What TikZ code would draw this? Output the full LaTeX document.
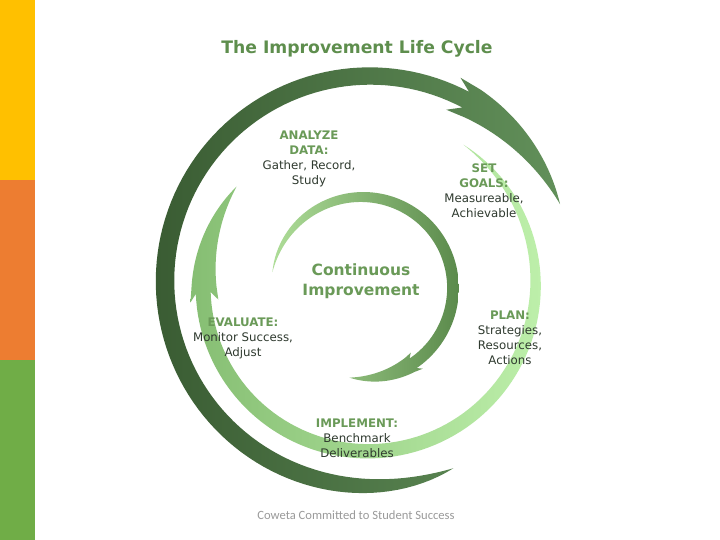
\documentclass[tikz,border=0pt]{standalone}
\usepackage{fontspec}
\setmainfont{DejaVu Sans}
\newfontfamily\footfont{Carlito}
\definecolor{barY}{HTML}{FFC000}
\definecolor{barO}{HTML}{ED7D31}
\definecolor{barG}{HTML}{70AD47}
\definecolor{oDark}{HTML}{3A5C33}
\definecolor{oLight}{HTML}{62905A}
\definecolor{mDark}{HTML}{86BE73}
\definecolor{mLight}{HTML}{BDEFAA}
\definecolor{iLight}{HTML}{AEDD98}
\definecolor{iDark}{HTML}{5B8A4C}
\definecolor{hdr}{HTML}{6A9A58}
\definecolor{ttl}{HTML}{5E8E4D}
\definecolor{body}{HTML}{2F3A2F}
\definecolor{foot}{HTML}{9A9A9A}
% outer arrow
\pgfmathdeclarefunction{oA}{1}{\pgfmathparse{-66-232*#1}}
\pgfmathdeclarefunction{oW}{1}{\pgfmathparse{10*(1-exp(-12*#1))-1.5*#1}}
\pgfmathdeclarefunction{oHA}{1}{\pgfmathparse{-300-38*#1}}
\pgfmathdeclarefunction{oH}{1}{\pgfmathparse{16*(1-#1)*(1+0.3*#1)}}
% middle arrow
\pgfmathdeclarefunction{mA}{1}{\pgfmathparse{55-232*#1}}
\pgfmathdeclarefunction{mR}{1}{\pgfmathparse{170-7*#1*#1}}
\pgfmathdeclarefunction{mW}{1}{\pgfmathparse{7.5*(1-exp(-5*#1))}}
\pgfmathdeclarefunction{mHA}{1}{\pgfmathparse{-179-38*#1}}
\pgfmathdeclarefunction{mH}{1}{\pgfmathparse{12.5*(1-#1)*(1+0.3*#1)}}
% inner arrow
\pgfmathdeclarefunction{iA}{1}{\pgfmathparse{170-226*#1}}
\pgfmathdeclarefunction{iW}{1}{\pgfmathparse{6*(1-exp(-5*#1))}}
\pgfmathdeclarefunction{iHA}{1}{\pgfmathparse{-58-40*#1}}
\pgfmathdeclarefunction{iH}{1}{\pgfmathparse{8.5*(1-#1)*(1+0.3*#1)}}
\newcommand\hd[1]{\textcolor{hdr}{\bfseries #1}}
\tikzset{
  lbl/.style={align=center, font=\fontsize{11.8}{15}\selectfont, text=body, inner sep=0pt},
  pl/.style={variable=\u, domain=0:1, samples=100}
}
\begin{document}
\begin{tikzpicture}[x=1pt,y=-1pt]
\useasboundingbox (0,0) rectangle (720,540);
\fill[white] (0,0) rectangle (720,540);
\fill[barY] (0,0) rectangle (35,180);
\fill[barO] (0,180) rectangle (35,360);
\fill[barG] (0,360) rectangle (35,540);

% outer arrow
\path[left color=oDark, right color=oLight]
  plot[pl] ({370+(205+oW(\u))*cos(oA(\u))},{281-(205+oW(\u))*sin(oA(\u))})
  -- ({370+222.5*cos(-294)},{281-222.5*sin(-294)})
  -- plot[pl] ({370+(205+oH(\u))*cos(oHA(\u))},{281-(205+oH(\u))*sin(oHA(\u))})
  -- plot[pl] ({370+(205-oH(1-\u))*cos(oHA(1-\u))},{281-(205-oH(1-\u))*sin(oHA(1-\u))})
  -- ({370+187.5*cos(-294)},{281-187.5*sin(-294)})
  -- plot[pl] ({370+(205-oW(1-\u))*cos(oA(1-\u))},{281-(205-oW(1-\u))*sin(oA(1-\u))})
  -- cycle;

% middle arrow
\path[left color=mDark, right color=mLight]
  plot[pl] ({366+(mR(\u)+mW(\u))*cos(mA(\u))},{284-(mR(\u)+mW(\u))*sin(mA(\u))})
  -- ({366+176.5*cos(-174)},{284-176.5*sin(-174)})
  -- plot[pl] ({366+(162+mH(\u))*cos(mHA(\u))},{284-(162+mH(\u))*sin(mHA(\u))})
  -- plot[pl] ({366+(162-mH(1-\u))*cos(mHA(1-\u))},{284-(162-mH(1-\u))*sin(mHA(1-\u))})
  -- ({366+148.5*cos(-174)},{284-148.5*sin(-174)})
  -- plot[pl] ({366+(mR(1-\u)-mW(1-\u))*cos(mA(1-\u))},{284-(mR(1-\u)-mW(1-\u))*sin(mA(1-\u))})
  -- cycle;

% inner arrow
\path[left color=iLight, right color=iDark]
  plot[pl] ({362+(91+iW(\u))*cos(iA(\u))},{288-(91+iW(\u))*sin(iA(\u))})
  -- ({362+101*cos(-53)},{288-101*sin(-53)})
  -- plot[pl] ({362+(90.5+iH(\u))*cos(iHA(\u))},{288-(90.5+iH(\u))*sin(iHA(\u))})
  -- plot[pl] ({362+(90.5-iH(1-\u))*cos(iHA(1-\u))},{288-(90.5-iH(1-\u))*sin(iHA(1-\u))})
  -- ({362+81*cos(-53)},{288-81*sin(-53)})
  -- plot[pl] ({362+(91-iW(1-\u))*cos(iA(1-\u))},{288-(91-iW(1-\u))*sin(iA(1-\u))})
  -- cycle;

% texts
\node[text=ttl, font=\fontsize{17.2}{20}\selectfont\bfseries, inner sep=0pt] (title) at (357,49) {The Improvement Life Cycle};
\node[lbl] (analyze) at (309,159) {\hd{ANALYZE}\\\hd{DATA:}\\Gather, Record,\\Study};
\node[lbl] (goals) at (484,191) {\hd{SET}\\\hd{GOALS:}\\Measureable,\\Achievable};
\node[lbl, font=\fontsize{15.5}{20}\selectfont\bfseries, text=hdr] (cont) at (361,281) {Continuous\\Improvement};
\node[lbl] (evaluate) at (243,338) {\hd{EVALUATE:}\\Monitor Success,\\Adjust};
\node[lbl] (plan) at (510,338) {\hd{PLAN:}\\Strategies,\\Resources,\\Actions};
\node[lbl] (implement) at (357,438) {\hd{IMPLEMENT:}\\Benchmark\\Deliverables};
\node[text=foot, font=\footfont\fontsize{12.6}{14}\selectfont, inner sep=0pt] (footer) at (356,515) {Coweta Committed to Student Success};
\end{tikzpicture}
\end{document}
